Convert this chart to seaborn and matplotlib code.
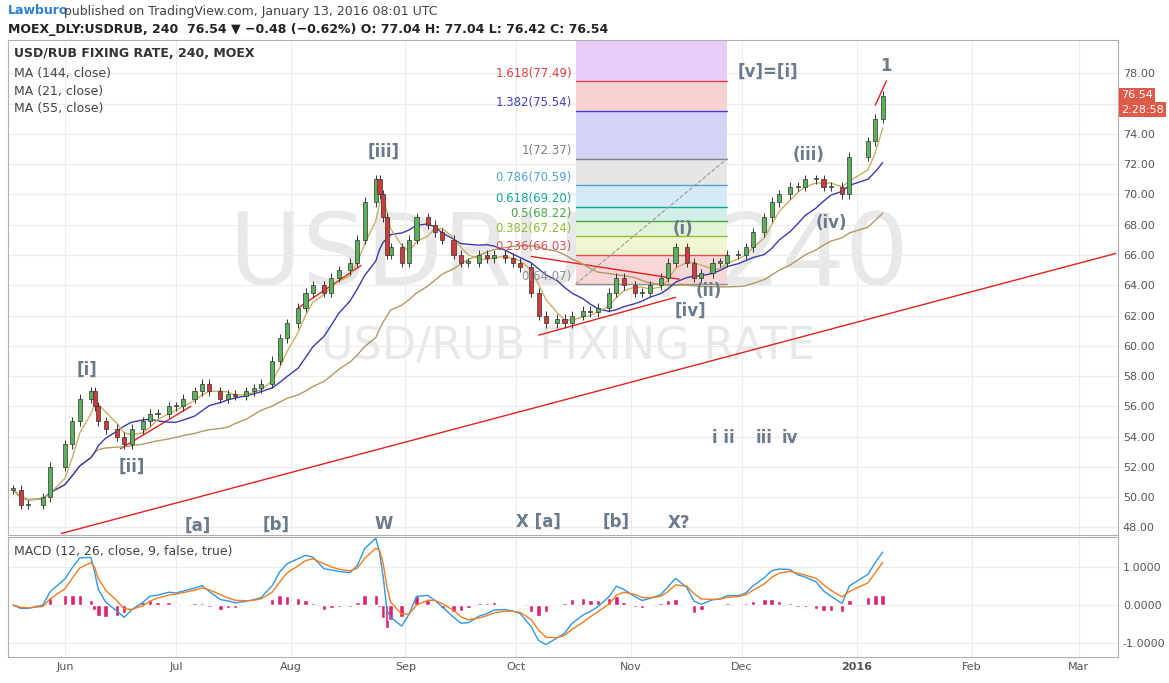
import numpy as np, pandas as pd, matplotlib
matplotlib.use("Agg")
import matplotlib.pyplot as plt, matplotlib.dates as mdates
import seaborn as sns

dates = ["2015-05-18","2015-05-20","2015-05-22","2015-05-26","2015-05-28","2015-06-01","2015-06-03","2015-06-05","2015-06-08","2015-06-09","2015-06-10","2015-06-12","2015-06-15","2015-06-17","2015-06-19","2015-06-22","2015-06-24","2015-06-26","2015-06-29","2015-07-01","2015-07-03","2015-07-06","2015-07-08","2015-07-10","2015-07-13","2015-07-15","2015-07-17","2015-07-20","2015-07-22","2015-07-24","2015-07-27","2015-07-29","2015-07-31","2015-08-03","2015-08-05","2015-08-07","2015-08-10","2015-08-12","2015-08-14","2015-08-17","2015-08-19","2015-08-21","2015-08-24","2015-08-25","2015-08-26","2015-08-27","2015-08-28","2015-08-31","2015-09-02","2015-09-04","2015-09-07","2015-09-09","2015-09-11","2015-09-14","2015-09-16","2015-09-18","2015-09-21","2015-09-23","2015-09-25","2015-09-28","2015-09-30","2015-10-02","2015-10-05","2015-10-07","2015-10-09","2015-10-12","2015-10-14","2015-10-16","2015-10-19","2015-10-21","2015-10-23","2015-10-26","2015-10-28","2015-10-30","2015-11-02","2015-11-04","2015-11-06","2015-11-09","2015-11-11","2015-11-13","2015-11-16","2015-11-18","2015-11-20","2015-11-23","2015-11-25","2015-11-27","2015-11-30","2015-12-02","2015-12-04","2015-12-07","2015-12-09","2015-12-11","2015-12-14","2015-12-16","2015-12-18","2015-12-21","2015-12-23","2015-12-25","2015-12-28","2015-12-30","2016-01-04","2016-01-06","2016-01-08"]
closes = [50.5,49.5,49.5,50.0,52.0,53.5,55.0,56.5,57.0,56.0,55.0,54.5,54.0,53.5,54.5,55.0,55.5,55.5,56.0,56.0,56.5,57.0,57.5,57.0,56.5,56.8,56.7,57.0,57.2,57.5,59.0,60.5,61.5,62.5,63.5,64.0,63.5,64.5,65.0,65.5,67.0,69.5,71.0,70.0,68.5,66.0,66.5,65.5,67.0,68.5,68.0,67.5,67.0,66.0,65.5,65.5,66.0,65.8,66.0,65.8,65.5,65.2,63.5,62.0,61.5,61.8,61.5,62.0,62.3,62.2,62.5,63.5,64.5,64.0,63.5,63.5,64.0,64.5,65.5,66.5,65.5,64.5,64.8,65.5,65.5,66.0,66.0,66.5,67.5,68.5,69.5,70.0,70.5,70.5,71.0,71.0,70.5,70.5,70.0,72.5,73.5,75.0,76.5]
fib_ratios = ["1.618","1.382","1","0.786","0.618","0.5","0.382","0.236","0"]
fib_values = [77.49,75.54,72.37,70.59,69.20,68.22,67.24,66.03,64.07]
fib_line_colors = ["#e04040","#4040d0","#808080","#4fa3d9","#10a890","#45a845","#90c030","#e05050","#909090"]
fib_band_colors = ["#f6d2d2","#d3d3f5","#e6e6e6","#d6e9f7","#d2f0ea","#e2f3d8","#eef6d2","#f6d6d6"]
price_ticks = list(range(48, 79, 2))
macd_ticks = [1.0, 0.0, -1.0]

df = pd.DataFrame({"date": pd.to_datetime(dates), "close": closes})
df["open"] = df["close"].shift(1).fillna(df["close"].iloc[0])
df["ma21"] = df["close"].rolling(4, min_periods=1).mean()
df["ma55"] = df["close"].rolling(10, min_periods=1).mean()
df["ma144"] = df["close"].rolling(26, min_periods=1).mean()
e1 = df["close"].ewm(span=3).mean(); e2 = df["close"].ewm(span=6).mean()
df["macd"] = e1 - e2
df["sig"] = df["macd"].ewm(span=3).mean()
df["hist"] = df["macd"] - df["sig"]
df["x"] = mdates.date2num(df["date"])

W, H = 1169, 683
sns.set_style("white")
plt.rcParams['font.family'] = ['DejaVu Sans']
fig = plt.figure(figsize=(W/100, H/100), dpi=100)
def px(x0, y0, x1, y1):
    return [x0/W, 1-y1/H, (x1-x0)/W, (y1-y0)/H]
ax = fig.add_axes(px(8, 40, 1118, 535))
ax2 = fig.add_axes(px(8, 537, 1118, 657), sharex=ax)
x0 = mdates.date2num(pd.Timestamp("2015-06-01")) - 57/3.7
x1 = x0 + 1110/3.7
ax.set_xlim(x0, x1); ax.set_ylim(47.5, 80.2); ax2.set_ylim(-1.37, 1.8)

for a in (ax, ax2):
    a.yaxis.tick_right()
    a.grid(True, color="#ececec", lw=0.8)
    for s in a.spines.values(): s.set_color("#b0b0b0")
    a.tick_params(labelsize=8, colors="#555", length=0)
ax.set_yticks(price_ticks); ax.set_yticklabels([f"{v:.2f}" for v in price_ticks])
ax2.set_yticks(macd_ticks); ax2.set_yticklabels([f"{v:.4f}" for v in macd_ticks])
mon = pd.to_datetime(["2015-06-01","2015-07-01","2015-08-01","2015-09-01","2015-10-01","2015-11-01","2015-12-01","2016-01-01","2016-02-01","2016-03-01"])
ax2.set_xticks(mdates.date2num(mon))
ax2.set_xticklabels(["Jun","Jul","Aug","Sep","Oct","Nov","Dec","2016","Feb","Mar"])
plt.setp(ax.get_xticklabels(), visible=False)
ax2.get_xticklabels()[7].set_fontweight("bold")

# watermark
ax.text(0.505, 0.56, "USDRUB, 240", transform=ax.transAxes, ha="center", va="center", fontsize=72, color="#e8e8e8", zorder=0)
ax.text(0.505, 0.38, "USD/RUB FIXING RATE", transform=ax.transAxes, ha="center", va="center", fontsize=32, color="#e8e8e8", zorder=0)

# fib box
fx0 = mdates.date2num(pd.Timestamp("2015-10-17")); fx1 = mdates.date2num(pd.Timestamp("2015-11-27"))
ax.fill_between([fx0, fx1], fib_values[0], 80.2, color="#e6ccf6", lw=0, zorder=1)
for i in range(len(fib_values)-1):
    ax.fill_between([fx0, fx1], fib_values[i+1], fib_values[i], color=fib_band_colors[i], lw=0, zorder=1)
for r, v, c in zip(fib_ratios, fib_values, fib_line_colors):
    ax.plot([fx0, fx1], [v, v], color=c, lw=1, zorder=2)
    ax.text(fx0-1, v+0.1, f"{r}({v:.2f})", color=c, fontsize=8.5, ha="right", va="bottom", zorder=6)
ax.plot([fx0, fx1], [fib_values[-1], fib_values[2]], ls="--", color="#999", lw=0.8, zorder=2)

# trendlines
tl = mdates.date2num(pd.to_datetime(["2015-05-31","2016-03-11"]))
ax.plot(tl, [47.6, 66.1], color="#e52020", lw=1, zorder=3)
for d, v in [(["2015-10-07","2015-11-13"], [60.7, 63.2]), (["2015-10-05","2015-11-14"], [65.9, 64.4]), (["2015-06-16","2015-07-05"],[53.2,56.0]), (["2015-08-03","2015-08-20"],[62.5,65.3]), (["2016-01-06","2016-01-09"],[75.9,77.5])]:
    ax.plot(mdates.date2num(pd.to_datetime(d)), v, color="#e52020", lw=1, zorder=3)

# MAs
sns.lineplot(data=df, x="x", y="ma144", ax=ax, color="#b09a62", lw=1, zorder=4)
sns.lineplot(data=df, x="x", y="ma55", ax=ax, color="#3b3bb0", lw=1, zorder=4)
sns.lineplot(data=df, x="x", y="ma21", ax=ax, color="#c8b060", lw=1, zorder=4)
# candles
up = df["close"] >= df["open"]
hi = np.maximum(df["open"], df["close"]) + 0.3; lo = np.minimum(df["open"], df["close"]) - 0.3
ax.vlines(df["x"], lo, hi, color="#333", lw=0.7, zorder=5)
ax.bar(df["x"], (df["close"]-df["open"]).abs().clip(lower=0.08), bottom=np.minimum(df["open"], df["close"]),
       width=1.1, color=np.where(up, "#5bb05b", "#d03a3a"), edgecolor="#333", lw=0.5, zorder=5)
ax.set_xlabel(""); ax.set_ylabel("")

# wave labels
lab = dict(color="#6b7b8b", fontsize=12, fontweight="bold", ha="center", va="center", zorder=7)
for t, d, v in [("[i]","2015-06-07",58.4),("[ii]","2015-06-19",52.0),("[iii]","2015-08-26",72.8),("[a]","2015-07-07",48.1),
                ("[b]","2015-07-28",48.2),("W","2015-08-26",48.2),("X [a]","2015-10-07",48.4),("[b]","2015-10-28",48.4),
                ("X?","2015-11-14",48.3),("[iv]","2015-11-17",62.3),("(i)","2015-11-15",67.7),("(ii)","2015-11-22",63.6),
                ("(iii)","2015-12-19",72.6),("(iv)","2015-12-25",68.1),("[v]=[i]","2015-12-08",78.1),("1","2016-01-09",78.5),
                ("i ii","2015-11-26",53.9),("iii","2015-12-07",53.9),("iv","2015-12-14",53.9)]:
    ax.text(mdates.date2num(pd.Timestamp(d)), v, t, **lab)

# legend texts
ax.text(0.005, 0.985, "USD/RUB FIXING RATE, 240, MOEX", transform=ax.transAxes, fontsize=9, fontweight="bold", color="#333", va="top")
for i, s in enumerate(["MA (144, close)","MA (21, close)","MA (55, close)"]):
    ax.text(0.005, 0.945-i*0.035, s, transform=ax.transAxes, fontsize=9, color="#444", va="top")

# right labels
for s, y in [("76.54", 76.54), ("2:28:58", 75.6)]:
    ax.annotate(s, xy=(1.003, y), xycoords=("axes fraction", "data"), fontsize=8, color="white", va="center",
                bbox=dict(boxstyle="square,pad=0.2", fc="#e05a4a", ec="none"), annotation_clip=False)

# MACD
ax2.bar(df["x"], df["hist"], width=1.2, color="#e0206e", zorder=3)
sns.lineplot(data=df, x="x", y="macd", ax=ax2, color="#2f96e8", lw=1, zorder=4)
sns.lineplot(data=df, x="x", y="sig", ax=ax2, color="#f07d20", lw=1, zorder=4)
ax2.set_xlabel(""); ax2.set_ylabel("")
ax2.text(0.005, 0.93, "MACD (12, 26, close, 9, false, true)", transform=ax2.transAxes, fontsize=9, color="#444", va="top")

fig.text(8/W, 1-11/H, "Lawburo", color="#2a7fd4", fontsize=9, fontweight="bold", va="center")
fig.text(64/W, 1-11/H, "published on TradingView.com, January 13, 2016 08:01 UTC", color="#444", fontsize=9, va="center")
fig.text(8/W, 1-29/H, "MOEX_DLY:USDRUB, 240  76.54 \u25bc \u22120.48 (\u22120.62%) O: 77.04 H: 77.04 L: 76.42 C: 76.54",
         color="#222", fontsize=9, fontweight="bold", va="center")
fig.savefig("out.png", dpi=100)
